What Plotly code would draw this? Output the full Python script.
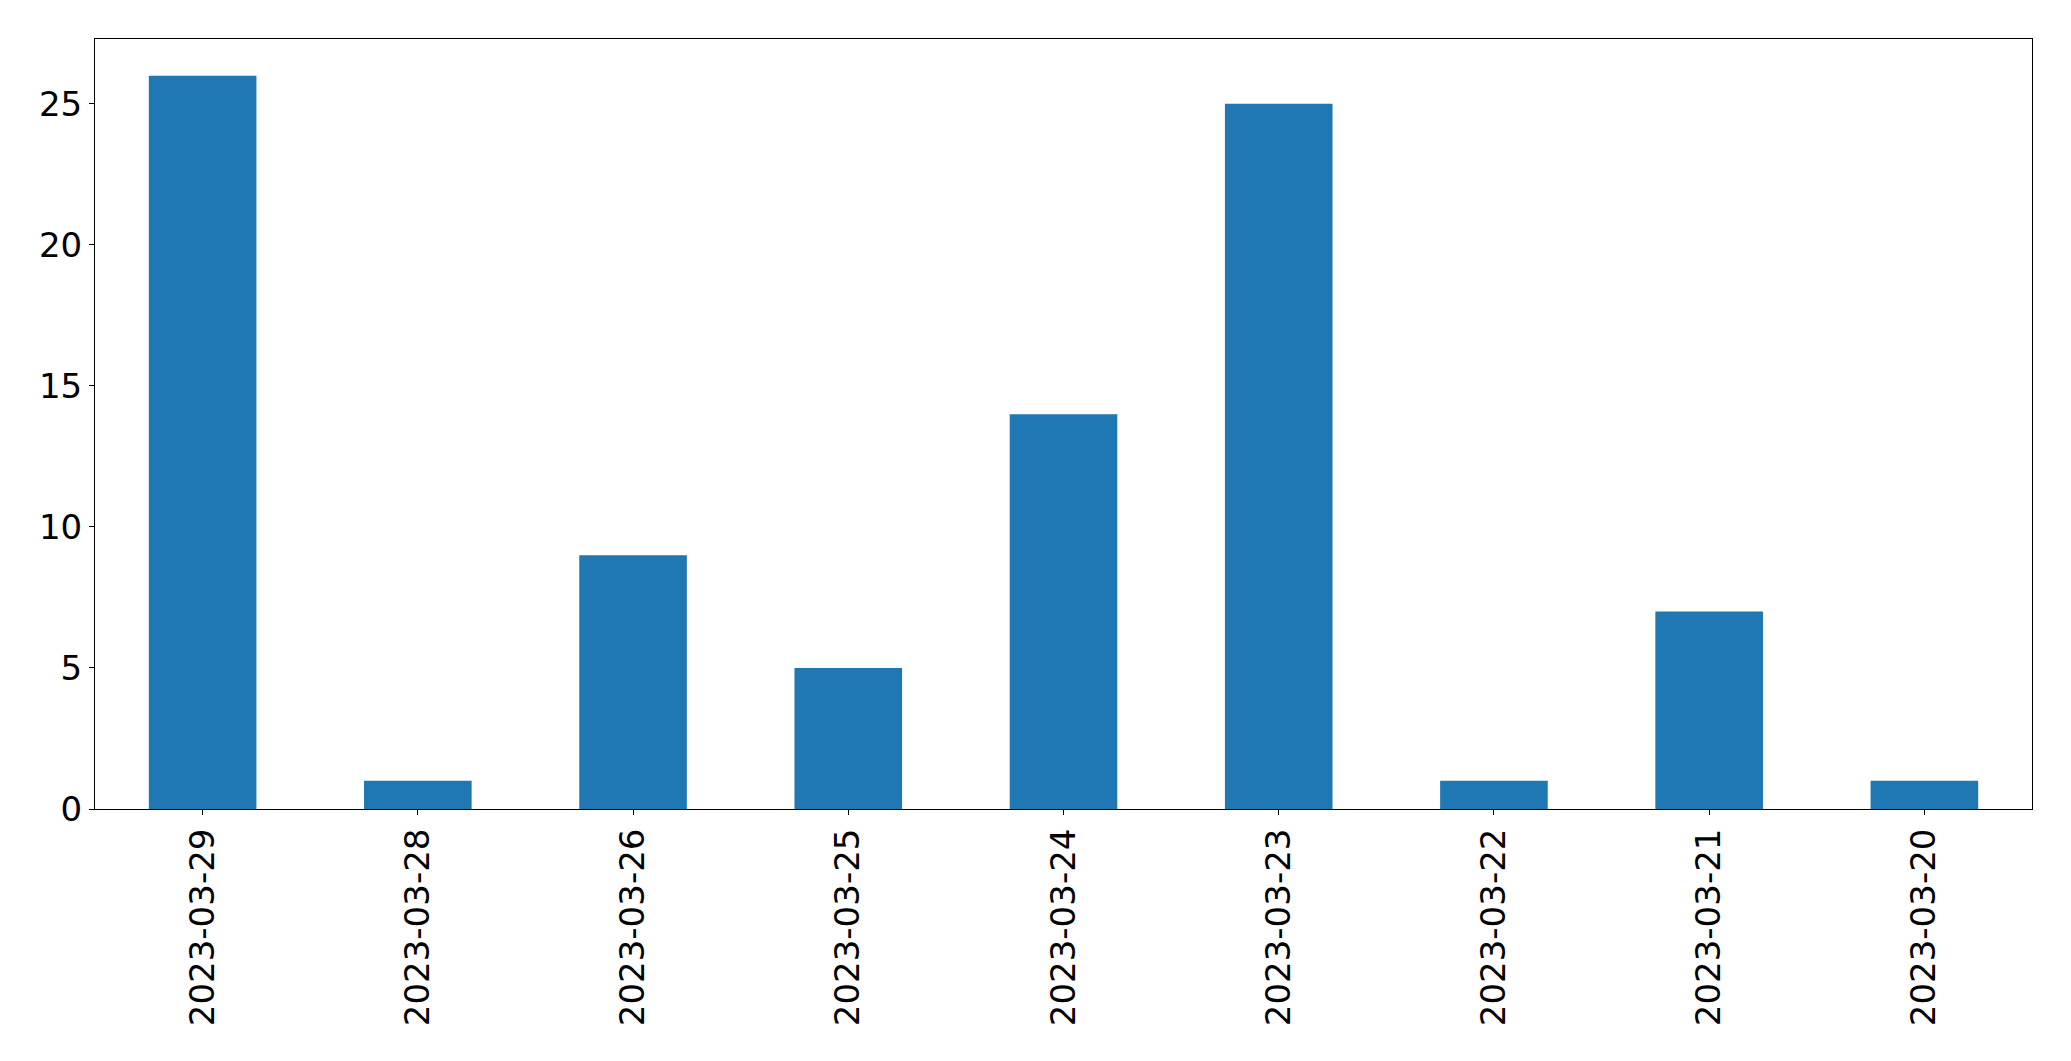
import plotly.graph_objects as go

dates = ["2023-03-29", "2023-03-28", "2023-03-26", "2023-03-25", "2023-03-24",
         "2023-03-23", "2023-03-22", "2023-03-21", "2023-03-20"]
counts = [26, 1, 9, 5, 14, 25, 1, 7, 1]
y_ticks = [0, 5, 10, 15, 20, 25]

fig = go.Figure()
fig.add_trace(go.Bar(x=dates, y=counts, width=0.5, marker=dict(color="#1f77b4", line=dict(width=0))))

axis_common = dict(
    showline=True, linecolor="black", linewidth=1, mirror=True,
    ticks="outside", ticklen=5, tickwidth=1, tickcolor="black",
    showgrid=False, zeroline=False,
    tickfont=dict(family="DejaVu Sans", size=34, color="black"),
)

# page body has an 8px default margin, so the figure is sized to fit the window
fig.update_layout(
    width=2063, height=1053,
    margin=dict(l=87, r=39, t=31, b=252),
    paper_bgcolor="white", plot_bgcolor="white",
    showlegend=False,
    xaxis=dict(type="category", range=[-0.5, 8.5], tickangle=-90, **axis_common),
    yaxis=dict(range=[0, 27.3], tickvals=y_ticks, **axis_common),
)

fig.write_html("out.html")
